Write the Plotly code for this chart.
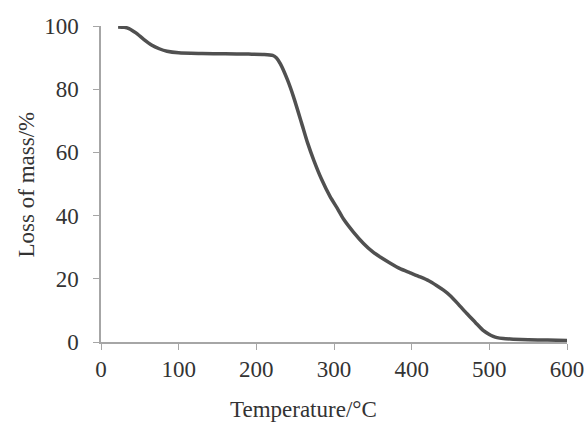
import plotly.graph_objects as go

temperature = [22, 30, 36, 45, 55, 65, 75, 85, 100, 130, 160, 190, 210, 221, 226, 231, 240, 248, 258, 266, 274, 284, 295, 305, 312, 325, 338, 350, 360, 372, 385, 398, 411, 422, 432, 441, 449, 460, 471, 482, 492, 500, 505, 510, 518, 531, 550, 575, 600]
mass_loss = [99.7, 99.6, 99.2, 97.8, 95.8, 94.0, 92.8, 92.0, 91.5, 91.3, 91.2, 91.1, 91.0, 90.7, 89.9, 88.0, 83.0, 77.5, 69.5, 63.0, 57.5, 51.5, 46.0, 42.0, 39.0, 34.8, 31.2, 28.5, 26.8, 25.0, 23.2, 21.9, 20.6, 19.4, 17.9, 16.4, 14.8, 12.0, 9.0, 6.2, 3.7, 2.4, 1.8, 1.4, 1.1, 0.9, 0.7, 0.6, 0.5]

x_ticks = [0, 100, 200, 300, 400, 500, 600]
y_ticks = [0, 20, 40, 60, 80, 100]
x_title = "Temperature/°C"
y_title = "Loss of mass/%"

FONT = dict(family="Liberation Serif", size=23, color="#333333")
AXIS_GRAY = "#a6a6a6"

fig = go.Figure()
fig.add_trace(go.Scatter(
    x=temperature, y=mass_loss, mode="lines",
    line=dict(color="#505050", width=3.5, shape="spline", smoothing=0.6),
    cliponaxis=False, showlegend=False, hoverinfo="skip",
))

fig.update_layout(
    width=586, height=422,
    margin=dict(l=101, r=19, t=26, b=80, autoexpand=False),
    paper_bgcolor="white", plot_bgcolor="white",
    font=FONT,
    xaxis=dict(
        range=[0, 600], tickvals=x_ticks, showgrid=False, zeroline=False,
        showline=True, linecolor=AXIS_GRAY, linewidth=1.5,
        ticks="outside", ticklen=6, tickcolor=AXIS_GRAY, tickfont=FONT,
        ticklabelstandoff=0, automargin=False,
    ),
    yaxis=dict(
        range=[0, 100], tickvals=y_ticks, showgrid=False, zeroline=False,
        showline=True, linecolor=AXIS_GRAY, linewidth=1.5,
        ticks="outside", ticklen=6, tickcolor=AXIS_GRAY, tickfont=FONT,
        ticklabelstandoff=10, automargin=False,
    ),
    annotations=[
        dict(text=x_title, xref="paper", yref="paper", x=0.4356, y=-0.2150,
             xanchor="center", yanchor="middle", showarrow=False, font=FONT),
        dict(text=y_title, xref="paper", yref="paper", x=-0.160, y=0.5,
             xanchor="center", yanchor="middle", textangle=-90, showarrow=False, font=FONT),
    ],
)

fig.write_html(
    "out.html",
    config={"displayModeBar": False},
    post_script="document.body.style.margin='0';document.body.style.overflow='hidden';",
)
